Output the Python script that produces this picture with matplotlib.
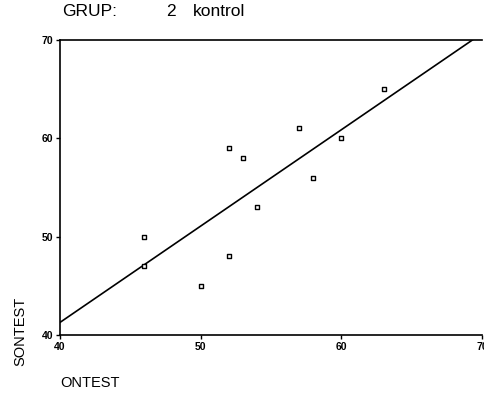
import matplotlib
matplotlib.use("Agg")
import matplotlib.pyplot as plt
import numpy as np

plt.rcParams["font.family"] = ["Liberation Sans", "DejaVu Sans"]

# ONTEST / SONTEST scores, group 2 (kontrol)
ontest = [46, 46, 50, 52, 52, 53, 54, 57, 58, 60, 63]
sontest = [50, 47, 45, 59, 48, 58, 53, 61, 56, 60, 65]
x_ticks = [40, 50, 60, 70]
y_ticks = [40, 50, 60, 70]

fig = plt.figure(figsize=(4.84, 3.95), dpi=100)
ax = fig.add_axes([60 / 484, 1 - 335 / 395, 422 / 484, 295 / 395])

ax.scatter(ontest, sontest, marker="s", s=11, facecolors="white",
           edgecolors="black", linewidths=1.0, zorder=3)

slope, intercept = np.polyfit(ontest, sontest, 1)
xs = np.array([40, 70])
ax.plot(xs, slope * xs + intercept, color="black", lw=1.2, zorder=2)

ax.set_xlim(40, 70)
ax.set_ylim(40, 70)
ax.set_xticks(x_ticks)
ax.set_yticks(y_ticks)
ax.tick_params(direction="out", length=3, width=1, labelsize=7.5, pad=2)
for lbl in ax.get_xticklabels() + ax.get_yticklabels():
    lbl.set_fontweight("bold")
ax.spines["right"].set_visible(False)
for s in ["left", "bottom", "top"]:
    ax.spines[s].set_linewidth(1.2)

fig.text(62 / 484, 1 - 12 / 395, "GRUP:", fontsize=12.5, va="center", ha="left")
fig.text(166 / 484, 1 - 12 / 395, "2", fontsize=12.5, va="center", ha="left")
fig.text(193 / 484, 1 - 12 / 395, "kontrol", fontsize=12.5, va="center", ha="left")
fig.text(20 / 484, 1 - 331 / 395, "SONTEST", fontsize=10.5, rotation=90,
         va="center", ha="center")
fig.text(60 / 484, 1 - 383 / 395, "ONTEST", fontsize=10.5, va="center", ha="left")

fig.savefig("out.png", dpi=100)
